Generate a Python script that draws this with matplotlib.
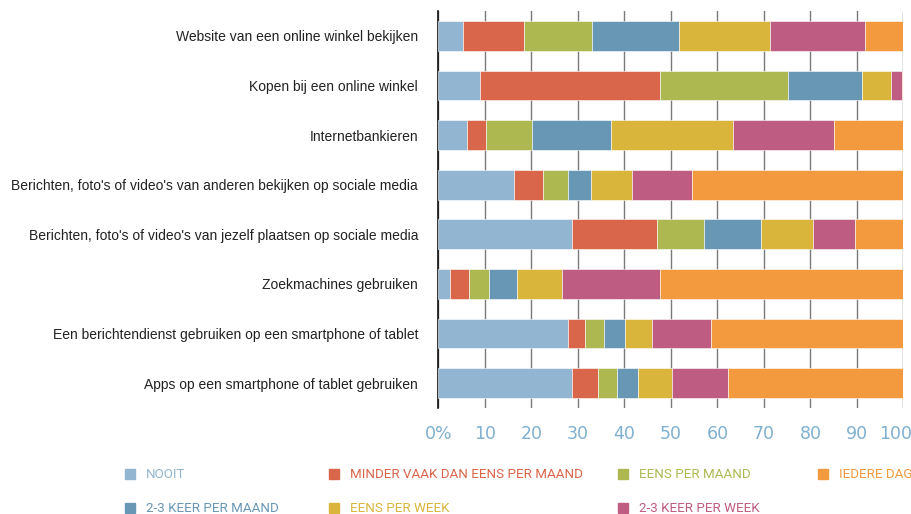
import numpy as np
import matplotlib
matplotlib.use('Agg')
import matplotlib.pyplot as plt
from matplotlib.patches import Rectangle
from matplotlib.transforms import ScaledTranslation

# activiteiten (van boven naar onder)
activiteiten = [
    'Website van een online winkel bekijken',
    'Kopen bij een online winkel',
    'Internetbankieren',
    "Berichten, foto's of video's van anderen bekijken op sociale media",
    "Berichten, foto's of video's van jezelf plaatsen op sociale media",
    'Zoekmachines gebruiken',
    'Een berichtendienst gebruiken op een smartphone of tablet',
    'Apps op een smartphone of tablet gebruiken',
]

reeksen = ['NOOIT', 'MINDER VAAK DAN EENS PER MAAND', 'EENS PER MAAND',
           '2-3 KEER PER MAAND', 'EENS PER WEEK', '2-3 KEER PER WEEK', 'IEDERE DAG']
kleuren = ['#92b6d1', '#d9654a', '#aeb851', '#6897b5', '#d9b53c', '#bf5c81', '#f3993e']

# percentages per reeks, in volgorde van de activiteiten
nooit        = [5.4, 9.0, 6.2, 16.3, 28.7, 2.6, 27.9, 28.7]
minder       = [13.1, 38.7, 4.0, 6.1, 18.4, 3.9, 3.6, 5.7]
eens_maand   = [14.5, 27.5, 10.0, 5.4, 10.0, 4.4, 4.1, 4.0]
keer23_maand = [18.8, 15.9, 16.9, 5.1, 12.3, 6.1, 4.5, 4.6]
eens_week    = [19.5, 6.2, 26.2, 8.7, 11.2, 9.5, 5.8, 7.3]
keer23_week  = [20.5, 2.4, 21.7, 13.0, 9.0, 21.2, 12.7, 11.9]
iedere_dag   = [8.2, 0.3, 15.0, 45.4, 10.4, 52.3, 41.4, 37.8]

waarden = [nooit, minder, eens_maand, keer23_maand, eens_week, keer23_week, iedere_dag]

ticks = [0, 10, 20, 30, 40, 50, 60, 70, 80, 90, 100]
tick_labels = ['0%', '10', '20', '30', '40', '50', '60', '70', '80', '90', '100']

fig = plt.figure(figsize=(9.12, 5.14), dpi=100)
ax = fig.add_axes([438.3 / 912, 1 - 408 / 514, 465.2 / 912, 397 / 514])

y = np.arange(len(activiteiten))
links = np.zeros(len(activiteiten))
for naam, vals, kleur in zip(reeksen, waarden, kleuren):
    vals = np.array(vals)
    ax.barh(y, vals, left=links, height=0.6, color=kleur, edgecolor='#ffffff',
            linewidth=0.4, label=naam, zorder=3)
    links += vals

ax.set_xlim(0, 100)
ax.set_ylim(len(activiteiten) - 0.5, -0.5)
ax.set_yticks(y)
ax.set_yticklabels(activiteiten, fontsize=10, family='Liberation Sans', color='#222222')
ax.set_xticks(ticks)
ax.set_xticklabels(tick_labels, fontsize=12.5, color='#7fb0d0', family='DejaVu Sans')
ax.tick_params(axis='both', length=0)
ax.tick_params(axis='x', pad=12)
ax.tick_params(axis='y', pad=14.5)
lab = ax.get_xticklabels()[-1]
lab.set_transform(lab.get_transform() + ScaledTranslation(-8 / 100, 0, fig.dpi_scale_trans))

ax.grid(axis='x', color='#7a7a7a', linewidth=1.0, zorder=0)
ax.set_axisbelow(True)
for s in ['top', 'right', 'bottom']:
    ax.spines[s].set_visible(False)
ax.spines['left'].set_color('#111111')
ax.spines['left'].set_linewidth(1.2)

# legenda handmatig in twee rijen
posities = [(125, 474), (329, 474), (618, 474), (125, 508),
            (329, 508), (618, 508), (818, 474)]
for i, (px, py) in enumerate(posities):
    fig.patches.append(Rectangle((px / 912, 1 - (py + 5) / 514), 10 / 912, 10 / 514,
                                 transform=fig.transFigure, color=kleuren[i]))
    fig.text((px + 21) / 912, 1 - py / 514, reeksen[i], color=kleuren[i],
             fontsize=9.6, family='Roboto', va='center', ha='left')

fig.savefig('out.png', dpi=100)
